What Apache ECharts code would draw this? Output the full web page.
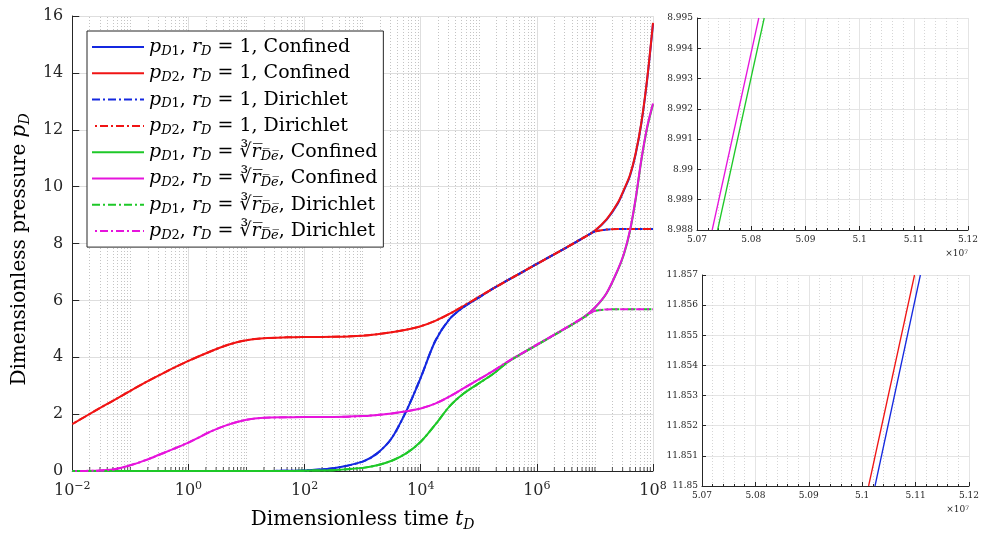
<!DOCTYPE html>
<html>
<head>
<meta charset="utf-8">
<script src="https://cdn.jsdelivr.net/npm/echarts@6/dist/echarts.min.js"></script>
<style>
  html, body { margin: 0; padding: 0; background: #fff; }
  #chart { width: 982px; height: 537px; }
</style>
</head>
<body>
<div id="chart"></div>
<script>
// dimensionless time samples (shared by all main curves)
const tD = [1e-2, 2.5e-2, 5e-2, 1e-1, 2e-1, 4e-1, 1, 2.5, 5, 10, 20, 50, 100, 316, 1000, 1780, 3160, 5620,
  1e4, 1.78e4, 3.16e4, 5.62e4, 1e5, 1.78e5, 3.16e5, 1e6, 3.16e6, 6.3e6, 1e7, 1.58e7, 2.5e7, 3.16e7,
  4e7, 5e7, 6.3e7, 7.94e7, 1e8];

// rD = 1
const pD1_r1_conf = [0, 0, 0, 0, 0, 0, 0, 0, 0, 0, 0, 0.01, 0.02, 0.1, 0.33, 0.62, 1.15, 2.1,
  3.28, 4.57, 5.35, 5.78, 6.1, 6.42, 6.71, 7.28, 7.85, 8.2, 8.45, 8.83, 9.42, 9.87,
  10.37, 11.12, 12.22, 13.76, 15.72];
const pD2_r1_conf = [1.65, 2.12, 2.47, 2.82, 3.16, 3.48, 3.87, 4.22, 4.45, 4.6, 4.67, 4.70, 4.71, 4.72, 4.76, 4.81, 4.88, 4.97,
  5.09, 5.28, 5.53, 5.82, 6.12, 6.42, 6.71, 7.28, 7.85, 8.2, 8.46, 8.85, 9.45, 9.9,
  10.4, 11.15, 12.25, 13.8, 15.76];
const pD1_r1_dir = [0, 0, 0, 0, 0, 0, 0, 0, 0, 0, 0, 0.01, 0.02, 0.1, 0.33, 0.62, 1.15, 2.1,
  3.28, 4.57, 5.35, 5.78, 6.1, 6.42, 6.71, 7.28, 7.85, 8.2, 8.42, 8.49, 8.51, 8.51,
  8.51, 8.51, 8.51, 8.51, 8.51];
const pD2_r1_dir = [1.65, 2.12, 2.47, 2.82, 3.16, 3.48, 3.87, 4.22, 4.45, 4.6, 4.67, 4.70, 4.71, 4.72, 4.76, 4.81, 4.88, 4.97,
  5.09, 5.28, 5.53, 5.82, 6.12, 6.42, 6.71, 7.28, 7.85, 8.2, 8.42, 8.49, 8.51, 8.51,
  8.51, 8.51, 8.51, 8.51, 8.51];

// rD = cube root of rDe
const pD1_rc_conf = [0, 0, 0, 0, 0, 0, 0, 0, 0, 0, 0, 0, 0.01, 0.03, 0.11, 0.2, 0.36, 0.62,
  1.03, 1.63, 2.28, 2.74, 3.08, 3.42, 3.83, 4.43, 5.02, 5.39, 5.74, 6.24, 7.08, 7.62,
  8.42, 9.52, 10.92, 12.07, 12.9];
const pD2_rc_conf = [0, 0.01, 0.05, 0.2, 0.41, 0.66, 1.0, 1.4, 1.64, 1.8, 1.87, 1.89, 1.9, 1.9, 1.93, 1.97, 2.02, 2.1,
  2.2, 2.37, 2.62, 2.92, 3.22, 3.52, 3.85, 4.44, 5.03, 5.4, 5.75, 6.25, 7.1, 7.65,
  8.45, 9.55, 10.95, 12.1, 12.92];
const pD1_rc_dir = [0, 0, 0, 0, 0, 0, 0, 0, 0, 0, 0, 0, 0.01, 0.03, 0.11, 0.2, 0.36, 0.62,
  1.03, 1.63, 2.28, 2.74, 3.08, 3.42, 3.83, 4.43, 5.02, 5.39, 5.63, 5.68, 5.69, 5.69,
  5.69, 5.69, 5.69, 5.69, 5.69];
const pD2_rc_dir = [0, 0.01, 0.05, 0.2, 0.41, 0.66, 1.0, 1.4, 1.64, 1.8, 1.87, 1.89, 1.9, 1.9, 1.93, 1.97, 2.02, 2.1,
  2.2, 2.37, 2.62, 2.92, 3.22, 3.52, 3.85, 4.44, 5.03, 5.4, 5.63, 5.68, 5.69, 5.69,
  5.69, 5.69, 5.69, 5.69, 5.69];

// zoomed insets
const topMagentaT = [5.0728e7, 5.0814e7], topMagentaP = [8.988, 8.995];
const topGreenT = [5.0738e7, 5.0824e7], topGreenP = [8.988, 8.995];
const botRedT = [5.1012e7, 5.1098e7], botRedP = [11.85, 11.857];
const botBlueT = [5.1024e7, 5.1109e7], botBlueP = [11.85, 11.857];

const F = "'DejaVu Serif', 'Liberation Serif', serif";
const BLUE = '#1428e0', RED = '#f01414', GREEN = '#1ec828', MAGENTA = '#e614dc';
const AX = '#262626';
const DASHDOT = [8, 3, 2, 3];

// minor grid positions on the log axis (2..9 x 10^k and odd decades)
const minorT = [];
for (let k = -2; k < 8; k++) {
  if (k % 2 !== 0) minorT.push(Math.pow(10, k));
  for (let m = 2; m <= 9; m++) minorT.push(m * Math.pow(10, k));
}

const zip = (xs, ys) => xs.map((x, i) => [x, ys[i]]);

const EQ = ' = ';
const CBRT = '\u221B{it|r\u0305}{subi|D\u0305e\u0305}';
const legendText = {
  'pD1_r1_conf': '{it|p}{subi|D}{sub|1}, {it|r}{subi|D}' + EQ + '1, Confined',
  'pD2_r1_conf': '{it|p}{subi|D}{sub|2}, {it|r}{subi|D}' + EQ + '1, Confined',
  'pD1_r1_dir': '{it|p}{subi|D}{sub|1}, {it|r}{subi|D}' + EQ + '1, Dirichlet',
  'pD2_r1_dir': '{it|p}{subi|D}{sub|2}, {it|r}{subi|D}' + EQ + '1, Dirichlet',
  'pD1_rc_conf': '{it|p}{subi|D}{sub|1}, {it|r}{subi|D}' + EQ + CBRT + ', Confined',
  'pD2_rc_conf': '{it|p}{subi|D}{sub|2}, {it|r}{subi|D}' + EQ + CBRT + ', Confined',
  'pD1_rc_dir': '{it|p}{subi|D}{sub|1}, {it|r}{subi|D}' + EQ + CBRT + ', Dirichlet',
  'pD2_rc_dir': '{it|p}{subi|D}{sub|2}, {it|r}{subi|D}' + EQ + CBRT + ', Dirichlet'
};

function mainLine(name, ys, color, dashed, offset) {
  return {
    name: name, type: 'line', xAxisIndex: 0, yAxisIndex: 0,
    data: zip(tD, ys), showSymbol: false, symbol: 'none',
    smooth: 0.3,
    lineStyle: { color: color, width: 2, type: dashed ? DASHDOT : 'solid', dashOffset: offset || 0 },
    itemStyle: { color: color }
  };
}

function insetLine(idx, xs, ys, color) {
  return {
    type: 'line', xAxisIndex: idx, yAxisIndex: idx, data: zip(xs, ys),
    showSymbol: false, symbol: 'none', lineStyle: { color: color, width: 1.3 }
  };
}

function insetX(idx, nameTop) {
  return {
    type: 'value', gridIndex: idx, min: 5.07e7, max: 5.12e7, interval: 1e5,
    axisLine: { lineStyle: { color: AX } },
    axisTick: { inside: true, length: 4, lineStyle: { color: AX } },
    minorTick: { show: true, splitNumber: 5, length: 2, lineStyle: { color: AX } },
    axisLabel: { fontFamily: F, fontSize: 9, color: AX, margin: 5,
      formatter: v => String(+(v / 1e7).toFixed(2)) },
    splitLine: { show: true, lineStyle: { color: '#e4e4e4' } },
    minorSplitLine: { show: true, lineStyle: { color: '#d6d6d6', type: [1, 2] } },
    name: '\u00d710{sup|7}', nameLocation: 'end', nameGap: 0,
    nameTextStyle: { fontFamily: F, fontSize: 9, color: AX, align: 'right', verticalAlign: 'top',
      padding: [nameTop, 0, 0, 0], rich: { sup: { fontFamily: F, fontSize: 6, verticalAlign: 'top', lineHeight: 6 } } }
  };
}

function insetY(idx, min, max) {
  return {
    type: 'value', gridIndex: idx, min: min, max: max, interval: 0.001,
    axisLine: { show: true, lineStyle: { color: AX } },
    axisTick: { show: true, inside: true, length: 4, lineStyle: { color: AX } },
    axisLabel: { fontFamily: F, fontSize: 9, color: AX, margin: 4 },
    splitLine: { show: true, lineStyle: { color: '#e4e4e4' } }
  };
}

const chart = echarts.init(document.getElementById('chart'));
chart.setOption({
  animation: false,
  backgroundColor: '#fff',
  grid: [
    { left: 71, right: 329, top: 16, bottom: 64 },
    { left: 697, right: 14, top: 18, bottom: 307 },
    { left: 702, right: 11, top: 275, bottom: 51 }
  ],
  legend: {
    data: Object.keys(legendText),
    orient: 'vertical', left: 87, top: 31,
    itemWidth: 52, itemHeight: 14, itemGap: 4.3,
    padding: [5, 6, 5, 4],
    backgroundColor: '#fff', borderColor: AX, borderWidth: 1,
    itemStyle: { opacity: 0, borderWidth: 0 },
    formatter: name => legendText[name],
    textStyle: {
      fontFamily: F, fontSize: 19, color: '#000', lineHeight: 22,
      rich: {
        it: { fontFamily: F, fontSize: 19, fontStyle: 'italic', color: '#000' },
        subi: { fontFamily: F, fontSize: 13, fontStyle: 'italic', verticalAlign: 'bottom', lineHeight: 12, color: '#000' },
        sub: { fontFamily: F, fontSize: 13, verticalAlign: 'bottom', lineHeight: 12, color: '#000' }
      }
    }
  },
  xAxis: [
    {
      type: 'log', logBase: 100, gridIndex: 0, min: 0.01, max: 1e8,
      axisLine: { lineStyle: { color: AX } },
      axisTick: { inside: true, length: 7, lineStyle: { color: AX } },
      axisLabel: {
        fontFamily: F, fontSize: 16, color: AX, margin: 10, lineHeight: 20,
        formatter: function (v) {
          const e = Math.round(Math.log10(v));
          return '10{sup|' + (e < 0 ? '\u2212' + (-e) : e) + '}';
        },
        rich: { sup: { fontFamily: F, fontSize: 11, verticalAlign: 'top', lineHeight: 11, color: AX } }
      },
      splitLine: { show: true, lineStyle: { color: '#dedede' } },
      name: 'Dimensionless time {it|t}{sub|D}', nameLocation: 'middle', nameGap: 37,
      nameTextStyle: {
        fontFamily: F, fontSize: 20, color: '#000', lineHeight: 24,
        rich: {
          it: { fontFamily: F, fontSize: 20, fontStyle: 'italic', color: '#000' },
          sub: { fontFamily: F, fontSize: 14, fontStyle: 'italic', verticalAlign: 'bottom', lineHeight: 13, color: '#000' }
        }
      }
    },
    insetX(1, 19),
    insetX(2, 19)
  ],
  yAxis: [
    {
      type: 'value', gridIndex: 0, min: 0, max: 16, interval: 2,
      axisLine: { show: true, lineStyle: { color: AX } },
      axisTick: { show: true, inside: true, length: 7, lineStyle: { color: AX } },
      axisLabel: { fontFamily: F, fontSize: 16, color: AX, margin: 9 },
      splitLine: { show: true, lineStyle: { color: '#dedede' } },
      name: 'Dimensionless pressure {it|p}{sub|D}', nameLocation: 'middle', nameGap: 36,
      nameTextStyle: {
        fontFamily: F, fontSize: 20, color: '#000', lineHeight: 24, padding: [0, 12, 0, 0],
        rich: {
          it: { fontFamily: F, fontSize: 20, fontStyle: 'italic', color: '#000' },
          sub: { fontFamily: F, fontSize: 14, fontStyle: 'italic', verticalAlign: 'bottom', lineHeight: 13, color: '#000' }
        }
      }
    },
    insetY(1, 8.988, 8.995),
    insetY(2, 11.85, 11.857)
  ],
  series: [
    {
      // minor ticks and dotted minor grid of the log axis
      type: 'scatter', xAxisIndex: 0, yAxisIndex: 0, silent: true, z: 1,
      data: minorT.map(t => [t, 0]),
      symbol: 'rect', symbolSize: [1, 4], symbolOffset: [0, -2],
      itemStyle: { color: AX },
      markLine: {
        silent: true, symbol: ['none', 'none'], z: 1, label: { show: false },
        lineStyle: { color: '#c4c4c4', width: 1, type: [1, 2] },
        data: minorT.map(t => ({ xAxis: t }))
      }
    },
    mainLine('pD1_r1_conf', pD1_r1_conf, BLUE, false),
    mainLine('pD2_r1_conf', pD2_r1_conf, RED, false),
    mainLine('pD1_r1_dir', pD1_r1_dir, BLUE, true, 0),
    mainLine('pD2_r1_dir', pD2_r1_dir, RED, true, 8),
    mainLine('pD1_rc_conf', pD1_rc_conf, GREEN, false),
    mainLine('pD2_rc_conf', pD2_rc_conf, MAGENTA, false),
    mainLine('pD1_rc_dir', pD1_rc_dir, GREEN, true, 0),
    mainLine('pD2_rc_dir', pD2_rc_dir, MAGENTA, true, 8),
    insetLine(1, topMagentaT, topMagentaP, MAGENTA),
    insetLine(1, topGreenT, topGreenP, GREEN),
    insetLine(2, botRedT, botRedP, RED),
    insetLine(2, botBlueT, botBlueP, BLUE)
  ]
});
</script>
</body>
</html>
